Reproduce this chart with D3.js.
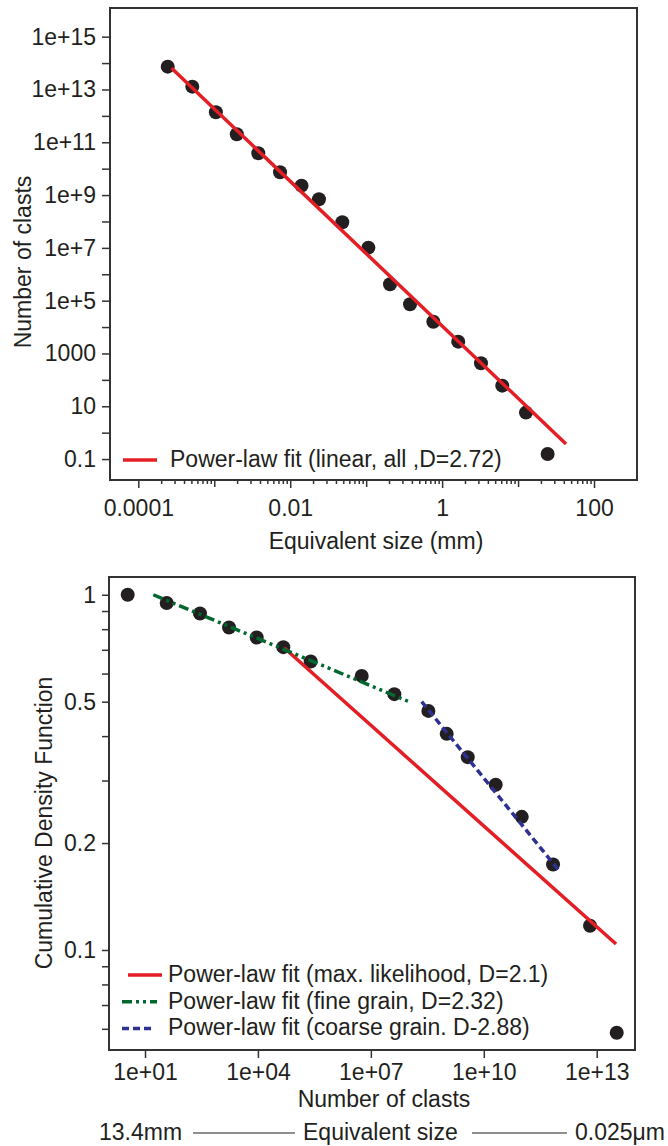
<!DOCTYPE html>
<html>
<head>
<meta charset="utf-8">
<title>Clast size distribution</title>
<script src="https://d3js.org/d3.v7.min.js"></script>
<style>
  body { margin: 0; background: #fff; }
  svg { display: block; font-family: "Liberation Sans", Arial, sans-serif; }
  .axis text { font-size: 23px; fill: #231f20; }
  .axis line { stroke: #333; stroke-width: 1.5; }
  .label { font-size: 23px; fill: #231f20; }
</style>
</head>
<body>
<svg width="668" height="1146"></svg>
<script>
// top panel: number of clasts per size class
var sizeMm = [2.44e-4, 5.14e-4, 1.05e-3, 1.98e-3, 3.80e-3, 7.35e-3, 0.0141, 0.0239, 0.0485,
              0.107, 0.206, 0.378, 0.766, 1.63, 3.25, 6.19, 12.7, 24.5];
var clastCount = [7.31e13, 1.28e13, 1.37e12, 2.01e11, 3.83e10, 7.31e9, 2.27e9, 6.93e8, 9.33e7,
                  1.02e7, 4.18e5, 7.31e4, 1.60e4, 2.80e3, 426, 60.3, 5.75, 0.155];
var fitSize = [2.75e-4, 42.8];
var fitCount = [6.35e13, 0.373];
var topXDomain = [4.24e-5, 368];
var topYDomain = [0.0161, 1.22e16];
var topXTicks = [1e-4, 1e-2, 1, 100];
var topXLabels = ["0.0001", "0.01", "1", "100"];
var topXDecades = [1e-3, 0.1, 10];
var topYTicks = [0.1, 10, 1000, 1e5, 1e7, 1e9, 1e11, 1e13, 1e15];
var topYLabels = ["0.1", "10", "1000", "1e+5", "1e+7", "1e+9", "1e+11", "1e+13", "1e+15"];
var topYMinor = [1, 100, 1e4, 1e6, 1e8, 1e10, 1e12, 1e14];

// bottom panel: cumulative distribution
var nClasts = [3.47, 37.7, 289, 1706, 9290, 4.72e4, 2.52e5, 5.71e6, 4.20e7, 3.37e8, 1.035e9,
               3.74e9, 2.07e10, 1.02e11, 6.92e11, 6.64e12, 3.40e13];
var cdf = [1.0, 0.948, 0.886, 0.809, 0.758, 0.712, 0.649, 0.591, 0.525, 0.471, 0.406,
           0.349, 0.292, 0.237, 0.174, 0.117, 0.0585];
var mleX = [5.02e4, 3.26e13], mleY = [0.708, 0.104];
var fineX = [16.6, 1.03e8], fineY = [1.0, 0.500];
var coarseX = [2.24e8, 1.06e12], coarseY = [0.500, 0.166];
var botXDomain = [1.105, 1.04e14];
var botYDomain = [0.0523, 1.122];
var botXTicks = [1e1, 1e4, 1e7, 1e10, 1e13];
var botXLabels = ["1e+01", "1e+04", "1e+07", "1e+10", "1e+13"];
var botYTicks = [0.1, 0.2, 0.5, 1];
var botYLabels = ["0.1", "0.2", "0.5", "1"];
var botYMinor = [0.06, 0.07, 0.08, 0.09, 0.3, 0.4, 0.6, 0.7, 0.8, 0.9];

var red = "#e31e24", green = "#00682f", blue = "#2e3192", ink = "#231f20";

var svg = d3.select("svg");
var topBox = { left: 110, top: 8, right: 637, bottom: 480 };
var botBox = { left: 109, top: 577, right: 635, bottom: 1050 };

function addAxis(sel, y0, axis) {
  var g = sel.append("g").attr("class", "axis").attr("transform", y0);
  g.call(axis);
  g.select(".domain").remove();
  return g;
}

// ---------- top panel ----------
var xTop = d3.scaleLog().domain(topXDomain).range([topBox.left, topBox.right]);
var yTop = d3.scaleLog().domain(topYDomain).range([topBox.bottom, topBox.top]);

var topXMinor = xTop.ticks().filter(function (d) { return d > 1e-4 * 1.01 && d < 100 * 0.99; })
  .filter(function (d) { return topXDecades.indexOf(d) < 0 && topXTicks.indexOf(d) < 0; });

addAxis(svg, "translate(0," + topBox.bottom + ")",
  d3.axisBottom(xTop).tickValues(topXMinor).tickSize(4).tickFormat(""));
addAxis(svg, "translate(0," + topBox.bottom + ")",
  d3.axisBottom(xTop).tickValues(topXDecades).tickSize(7).tickFormat(""));
addAxis(svg, "translate(0," + topBox.bottom + ")",
  d3.axisBottom(xTop).tickValues(topXTicks).tickSize(8).tickPadding(12)
    .tickFormat(function (d, i) { return topXLabels[i]; }));
addAxis(svg, "translate(" + topBox.left + ",0)",
  d3.axisLeft(yTop).tickValues(topYMinor).tickSize(8).tickFormat(""));
addAxis(svg, "translate(" + topBox.left + ",0)",
  d3.axisLeft(yTop).tickValues(topYTicks).tickSize(8).tickPadding(6)
    .tickFormat(function (d, i) { return topYLabels[i]; }));

svg.append("rect")
  .attr("x", topBox.left).attr("y", topBox.top)
  .attr("width", topBox.right - topBox.left).attr("height", topBox.bottom - topBox.top)
  .attr("fill", "none").attr("stroke", "#333").attr("stroke-width", 2);

svg.append("g").selectAll("circle")
  .data(d3.zip(sizeMm, clastCount))
  .enter().append("circle")
  .attr("cx", function (d) { return xTop(d[0]); })
  .attr("cy", function (d) { return yTop(d[1]); })
  .attr("r", 7)
  .attr("fill", ink);

var lineTop = d3.line()
  .x(function (d) { return xTop(d[0]); })
  .y(function (d) { return yTop(d[1]); });

svg.append("path")
  .datum(d3.zip(fitSize, fitCount))
  .attr("d", lineTop)
  .attr("fill", "none").attr("stroke", red).attr("stroke-width", 3.5);

// legend
svg.append("line").attr("x1", 123).attr("x2", 157).attr("y1", 460).attr("y2", 460)
  .attr("stroke", red).attr("stroke-width", 3.5);
svg.append("text").attr("class", "label").attr("x", 170).attr("y", 467)
  .text("Power-law fit (linear, all ,D=2.72)");

svg.append("text").attr("class", "label").attr("text-anchor", "middle")
  .attr("x", 376).attr("y", 549).text("Equivalent size (mm)");
svg.append("text").attr("class", "label").attr("text-anchor", "middle")
  .attr("transform", "translate(31,262) rotate(-90)").text("Number of clasts");

// ---------- bottom panel ----------
var xBot = d3.scaleLog().domain(botXDomain).range([botBox.left, botBox.right]);
var yBot = d3.scaleLog().domain(botYDomain).range([botBox.bottom, botBox.top]);

addAxis(svg, "translate(0," + botBox.bottom + ")",
  d3.axisBottom(xBot).tickValues(botXTicks).tickSize(8).tickPadding(6)
    .tickFormat(function (d, i) { return botXLabels[i]; }));
addAxis(svg, "translate(" + botBox.left + ",0)",
  d3.axisLeft(yBot).tickValues(botYMinor).tickSize(7).tickFormat(""));
addAxis(svg, "translate(" + botBox.left + ",0)",
  d3.axisLeft(yBot).tickValues(botYTicks).tickSize(7).tickPadding(6)
    .tickFormat(function (d, i) { return botYLabels[i]; }));

svg.append("rect")
  .attr("x", botBox.left).attr("y", botBox.top)
  .attr("width", botBox.right - botBox.left).attr("height", botBox.bottom - botBox.top)
  .attr("fill", "none").attr("stroke", "#333").attr("stroke-width", 2);

svg.append("g").selectAll("circle")
  .data(d3.zip(nClasts, cdf))
  .enter().append("circle")
  .attr("cx", function (d) { return xBot(d[0]); })
  .attr("cy", function (d) { return yBot(d[1]); })
  .attr("r", 7)
  .attr("fill", ink);

var lineBot = d3.line()
  .x(function (d) { return xBot(d[0]); })
  .y(function (d) { return yBot(d[1]); });

var fits = [
  { x: mleX, y: mleY, color: red, dash: null },
  { x: fineX, y: fineY, color: green, dash: "10,4,3,4,3,4" },
  { x: coarseX, y: coarseY, color: blue, dash: "7,4" }
];
fits.forEach(function (f) {
  svg.append("path")
    .datum(d3.zip(f.x, f.y))
    .attr("d", lineBot)
    .attr("fill", "none")
    .attr("stroke", f.color)
    .attr("stroke-width", 3.5)
    .attr("stroke-dasharray", f.dash);
});

// legend
var legendRows = [
  { text: "Power-law fit (max. likelihood, D=2.1)", color: red, dash: null, x1: 128, x2: 162 },
  { text: "Power-law fit (fine grain, D=2.32)", color: green, dash: "10,4,3,4,3,4", x1: 122, x2: 157 },
  { text: "Power-law fit (coarse grain. D-2.88)", color: blue, dash: "7,4", x1: 122, x2: 154 }
];
legendRows.forEach(function (r, i) {
  var y = 975 + i * 26.7;
  svg.append("line").attr("x1", r.x1).attr("x2", r.x2).attr("y1", y).attr("y2", y)
    .attr("stroke", r.color).attr("stroke-width", 3.5).attr("stroke-dasharray", r.dash);
  svg.append("text").attr("class", "label").attr("x", 168).attr("y", y + 7).text(r.text);
});

svg.append("text").attr("class", "label").attr("text-anchor", "middle")
  .attr("x", 384).attr("y", 1107).text("Number of clasts");
svg.append("text").attr("class", "label").attr("text-anchor", "middle")
  .attr("transform", "translate(52,823) rotate(-90)").text("Cumulative Density Function");

// size scale under the bottom panel
svg.append("text").attr("class", "label").attr("x", 99).attr("y", 1140).text("13.4mm");
svg.append("line").attr("x1", 193).attr("x2", 295).attr("y1", 1133).attr("y2", 1133)
  .attr("stroke", ink).attr("stroke-width", 1.2);
svg.append("text").attr("class", "label").attr("x", 303).attr("y", 1140).text("Equivalent size");
svg.append("line").attr("x1", 472).attr("x2", 567).attr("y1", 1133).attr("y2", 1133)
  .attr("stroke", ink).attr("stroke-width", 1.2);
svg.append("text").attr("class", "label").attr("x", 575).attr("y", 1140).text("0.025μm");
</script>
</body>
</html>
